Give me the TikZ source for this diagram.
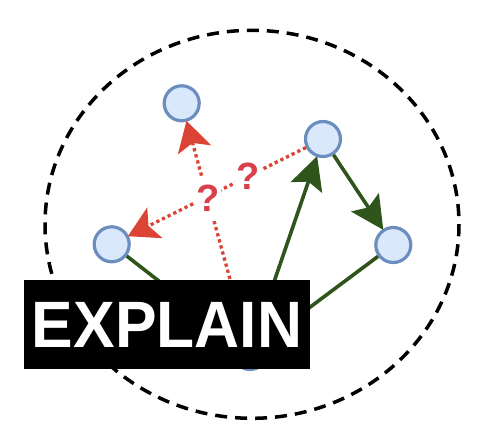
\documentclass[tikz,border=0pt]{standalone}
\usepackage{fontspec}
\setmainfont{Liberation Sans}
\usetikzlibrary{arrows.meta}
\definecolor{nodefill}{HTML}{DAE8FC}
\definecolor{nodeline}{HTML}{6C8EBF}
\definecolor{edgegreen}{RGB}{47,84,28}
\definecolor{edgered}{RGB}{219,68,52}
\definecolor{qred}{RGB}{216,64,76}
\tikzset{
  gnode/.style={circle, draw=nodeline, fill=nodefill, line width=3.2pt, minimum size=35pt, inner sep=0pt},
  gedge/.style={draw=edgegreen, line width=3.6pt},
  gtip/.style={-{Stealth[length=33pt, width=33pt, inset=6pt]}},
  redge/.style={draw=edgered, line width=3.3pt, dash pattern=on 3.3pt off 3pt},
  rtip/.style={-{Stealth[length=30pt, width=34pt, inset=7pt, fill=edgered]}},
  qlabel/.style={fill=white, text=qred, font=\fontsize{38}{40}\selectfont\bfseries, inner xsep=1.5pt, inner ysep=9pt},
  boundary/.style={draw=black, line width=3.5pt, dash pattern=on 12pt off 8pt},
  banner/.style={fill=black, text=white, font=\fontsize{65.6}{70}\selectfont\bfseries, inner sep=0pt, minimum width=286pt, minimum height=89pt}
}
\begin{document}
\begin{tikzpicture}[x=1pt, y=-1pt]
\useasboundingbox (0,0) rectangle (488,434);
\draw[boundary] (252,224.3) ellipse [x radius=207, y radius=194];
\node[gnode] (top) at (181.7,103.3) {};
\node[gnode] (tr) at (323,139) {};
\node[gnode] (lft) at (111.7,244.3) {};
\node[gnode] (rgt) at (393.3,245) {};
\node[gnode] (bot) at (250,352) {};
\draw[gedge] (lft) -- (bot);
\draw[gedge] (rgt) -- (bot);
\draw[gedge, gtip, shorten >=-1pt] (bot) -- (tr);
\draw[gedge, gtip, shorten >=-1pt] (tr) -- (rgt);
\draw[redge, rtip, shorten >=-1pt] (tr) -- node[qlabel, pos=0.324] (q1) {?} (lft);
\draw[redge, rtip, shorten >=-1pt] (bot) -- node[qlabel, pos=0.638] (q2) {?} (top);
\node[banner] (explain) at (167,324.5) {\scalebox{0.95}[1]{EXPLAIN}};
\end{tikzpicture}
\end{document}
